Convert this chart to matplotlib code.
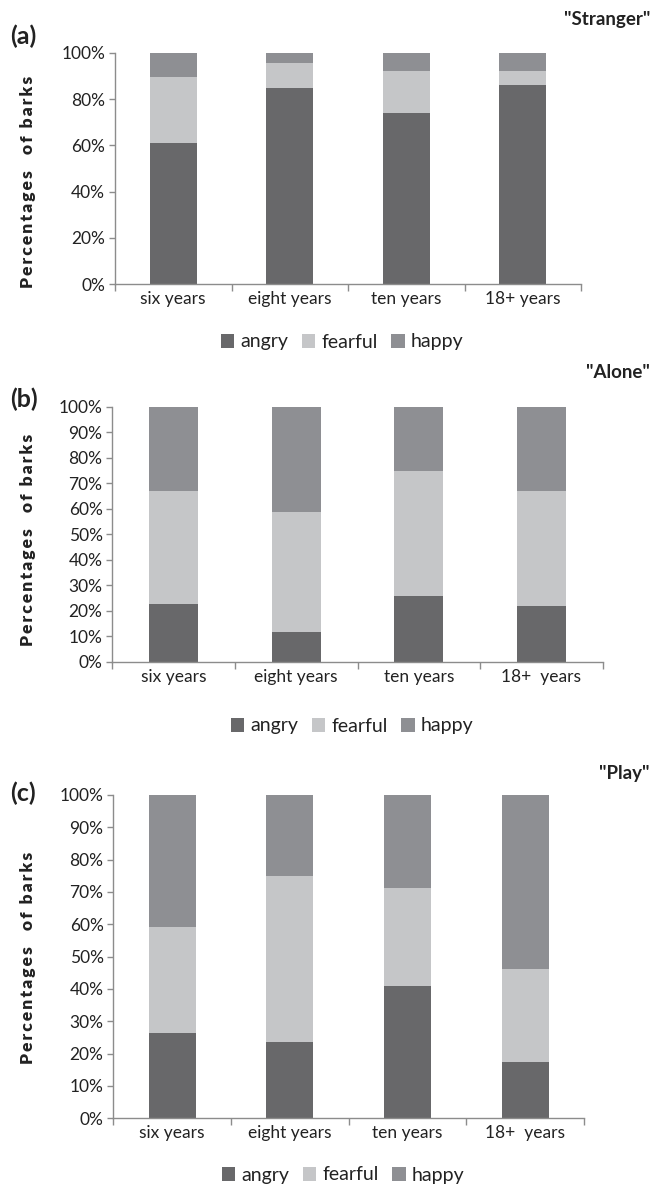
import numpy as np
import matplotlib
matplotlib.use("Agg")
import matplotlib.pyplot as plt
from matplotlib.ticker import FixedLocator, PercentFormatter

plt.rcParams['font.family'] = ['Lato', 'DejaVu Sans']

ages_a = ['six years', 'eight years', 'ten years', '18+ years']
ages_bc = ['six years', 'eight years', 'ten years', '18+  years']
emotions = ['angry', 'fearful', 'happy']

# percentages of barks
stranger_angry = [60.8, 84.6, 73.9, 85.9]
stranger_fearful = [28.6, 10.8, 18.1, 6.1]
stranger_happy = [10.6, 4.6, 8.0, 8.0]

alone_angry = [22.6, 11.6, 25.7, 21.8]
alone_fearful = [44.5, 47.3, 48.9, 45.0]
alone_happy = [32.9, 41.1, 25.4, 33.2]

play_angry = [26.4, 23.6, 41.0, 17.4]
play_fearful = [32.8, 51.4, 30.3, 28.8]
play_happy = [40.8, 25.0, 28.7, 53.8]

colors = ['#68686a', '#c5c6c8', '#8e8f93']
axis_col = '#8c8c8c'
text_col = '#222222'

# letter-spaced y label like the original
ylabel = '\u2009'.join('Percentages') + '    ' + '\u2009'.join('of') + '  ' + '\u2009'.join('barks')

fig = plt.figure(figsize=(6.52, 11.87), dpi=100)

panels = [
    # rect, labels, data, ystep, tag, title, tag_y, title_y, ylab_y, leg_y, leg_x
    ([115/652, 1 - 284.3/1187, 466/652, 231.6/1187], ages_a,
     [stranger_angry, stranger_fearful, stranger_happy], 20, '(a)', '"Stranger"', 36, 20, 182, 342, 342),
    ([112.3/652, 1 - 661.7/1187, 490.4/652, 255/1187], ages_bc,
     [alone_angry, alone_fearful, alone_happy], 10, '(b)', '"Alone"', 399, 373, 540, 726, 352),
    ([113.3/652, 1 - 1118.3/1187, 470.7/652, 323.3/1187], ages_bc,
     [play_angry, play_fearful, play_happy], 10, '(c)', '"Play"', 793, 774, 958, 1175, 343),
]

for rect, labels, data, ystep, tag, title, tag_y, title_y, ylab_y, leg_y, leg_x in panels:
    ax = fig.add_axes(rect)
    x = np.arange(len(labels))
    bottom = np.zeros(len(labels))
    for vals, name, col in zip(data, emotions, colors):
        ax.bar(x, vals, 0.4, bottom=bottom, color=col, label=name, linewidth=0)
        bottom += np.array(vals)

    ax.set_xlim(-0.5, 3.5)
    ax.set_ylim(0, 100)
    ax.set_yticks(np.arange(0, 101, ystep))
    ax.yaxis.set_major_formatter(PercentFormatter(decimals=0))
    ax.xaxis.set_major_locator(FixedLocator([-0.5, 0.5, 1.5, 2.5, 3.5]))
    ax.xaxis.set_minor_locator(FixedLocator(x))
    ax.set_xticklabels([], minor=False)
    ax.set_xticklabels(labels, minor=True)
    ax.tick_params(axis='x', which='major', length=5, color=axis_col, width=1)
    ax.tick_params(axis='x', which='minor', length=0, labelsize=12.5, labelcolor=text_col, pad=5)
    ax.tick_params(axis='y', length=4, color=axis_col, width=1, labelsize=12.5, labelcolor=text_col, pad=3)
    for s in ['top', 'right']:
        ax.spines[s].set_visible(False)
    for s in ['left', 'bottom']:
        ax.spines[s].set_color(axis_col)
        ax.spines[s].set_linewidth(1)

    fig.text(10/652, 1 - tag_y/1187, tag, fontsize=18, fontweight='bold', color=text_col,
             ha='left', va='center')
    fig.text(650/652, 1 - title_y/1187, title, fontsize=13.5, fontweight='bold', color=text_col,
             ha='right', va='center')
    fig.text(28/652, 1 - ylab_y/1187, ylabel, fontsize=12.5,
             fontweight='heavy', color=text_col, rotation=90, ha='center', va='center')

    ax.legend(loc='center', bbox_to_anchor=(leg_x/652, 1 - leg_y/1187), bbox_transform=fig.transFigure,
              ncol=3, frameon=False, fontsize=14, handlelength=0.7, handleheight=0.7,
              handletextpad=0.3, columnspacing=0.7, labelcolor=text_col)

fig.savefig('out.png', dpi=100)
